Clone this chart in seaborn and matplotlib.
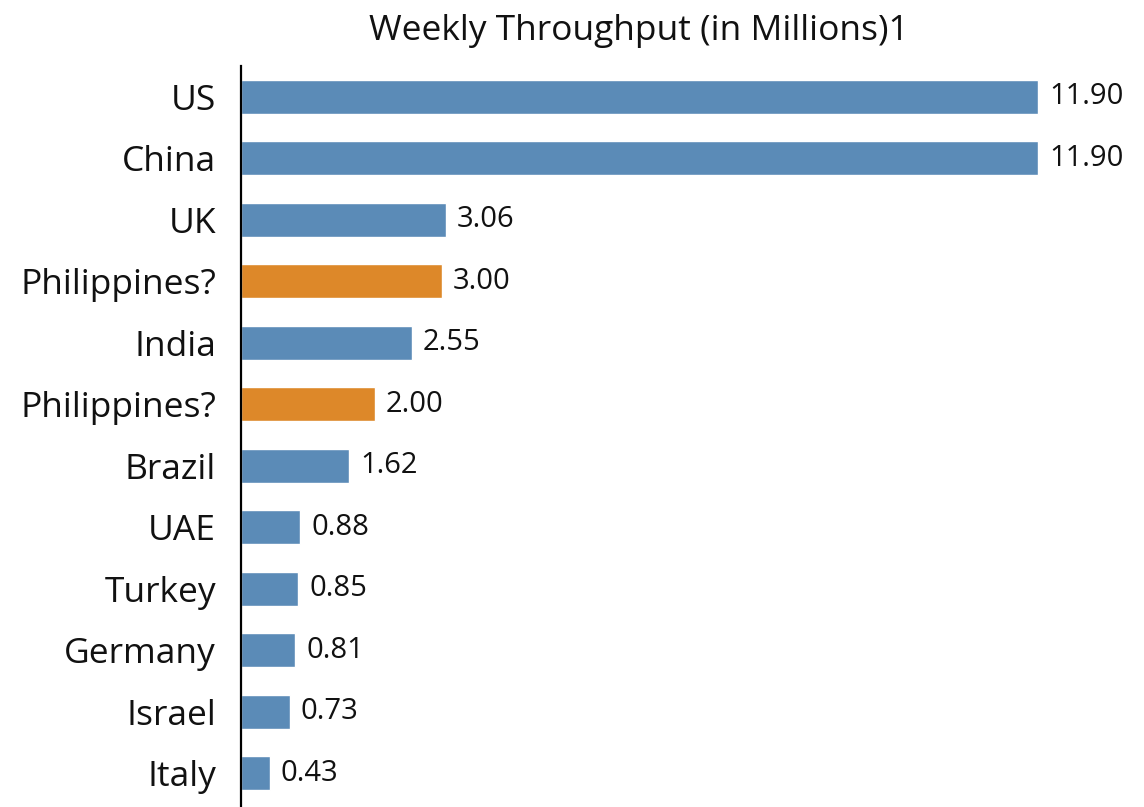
import matplotlib
matplotlib.use("Agg")
import matplotlib.pyplot as plt
import seaborn as sns
import pandas as pd

# Data
countries = ["US", "China", "UK", "Philippines?", "India", "Philippines?",
             "Brazil", "UAE", "Turkey", "Germany", "Israel", "Italy"]
throughput = [11.90, 11.90, 3.06, 3.00, 2.55, 2.00, 1.62, 0.88, 0.85, 0.81, 0.73, 0.43]
group = ["known", "known", "known", "estimate", "known", "estimate",
         "known", "known", "known", "known", "known", "known"]

colors = {"known": "#5b8bb7", "estimate": "#dd8829"}

df = pd.DataFrame({
    "row": [str(i) for i in range(len(countries))],
    "country": countries,
    "value": throughput,
    "group": group,
})

sns.set_theme(style="white")
plt.rcParams["font.family"] = ["Open Sans", "DejaVu Sans"]

fig = plt.figure(figsize=(11.44, 8.07), dpi=100)
ax = fig.add_axes([241 / 1144, 0.0, (1125 - 241) / 1144, 1 - 66 / 807])

sns.barplot(data=df, x="value", y="row", hue="group", palette=colors,
            orient="h", width=0.55, saturation=1, legend=False, ax=ax)

for cont in ax.containers:
    ax.bar_label(cont, fmt="%.2f", padding=8, fontsize=21, color="#111111")

ax.set_yticks(range(len(countries)))
ax.set_yticklabels(countries, fontsize=25.5, color="#111111")
ax.tick_params(axis="y", length=0, pad=18)
ax.set_xticks([])
ax.set_xlim(0, 13.2)
ax.set_ylim(11.55, -0.5)
ax.set_xlabel("")
ax.set_ylabel("")

for side in ["top", "right", "bottom"]:
    ax.spines[side].set_visible(False)
ax.spines["left"].set_color("black")
ax.spines["left"].set_linewidth(1.6)

fig.text(639 / 1144, 1 - 31 / 807, "Weekly Throughput (in Millions)1",
         ha="center", va="center", fontsize=25.5, color="#111111")

fig.savefig("out.png", dpi=100, facecolor="white")
